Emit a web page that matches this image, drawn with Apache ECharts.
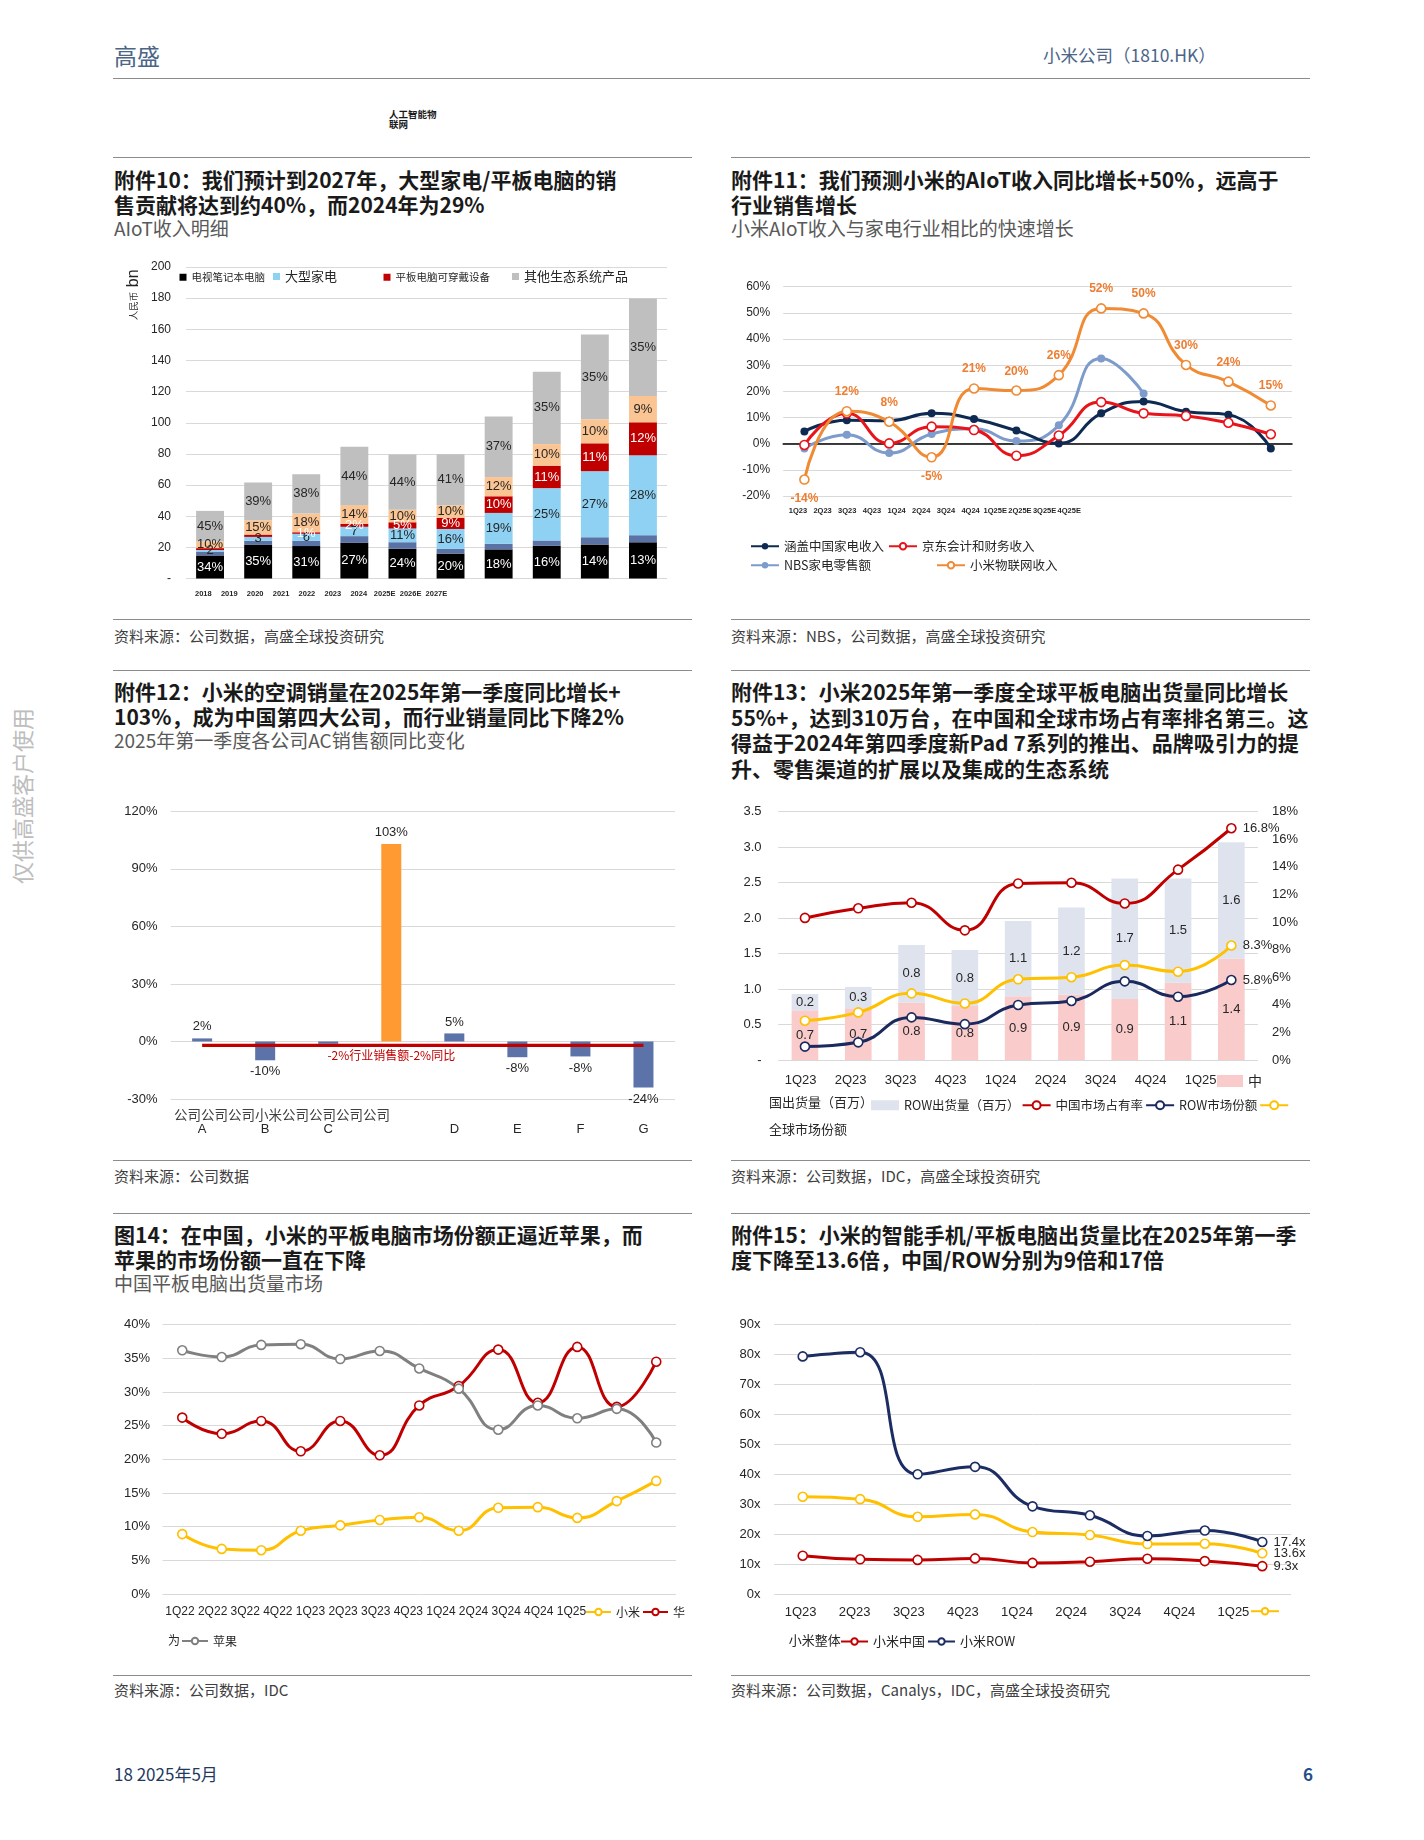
<!DOCTYPE html>
<html><head><meta charset="utf-8">
<script src="https://cdn.jsdelivr.net/npm/echarts@6/dist/echarts.min.js"></script>
<style>
html,body{margin:0;padding:0;background:#fff;}
body{width:1424px;height:1840px;position:relative;overflow:hidden;font-family:'Noto Sans CJK SC','Liberation Sans',sans-serif;}
.abs{position:absolute;white-space:nowrap;}
.rule{position:absolute;height:0;border-top:1.5px solid #8c8c8c;}
.title{font-size:21px;font-weight:700;line-height:24.5px;color:#1a1a1a;}
.sub{font-size:19px;line-height:24.5px;color:#595959;}
.src{font-size:15px;line-height:24px;color:#404040;}
.chart{position:absolute;}
</style></head><body>

<div class="abs" style="left:114px;top:41px;font-size:23px;line-height:28px;color:#4b6587;">高盛</div>
<div class="abs" style="left:1043px;top:43px;font-size:17.5px;line-height:24px;color:#4b6587;">小米公司（1810.HK）</div>
<div class="rule" style="left:113px;top:78px;width:1197px;"></div>
<div class="abs" style="left:389px;top:110px;font-size:9.5px;line-height:9.5px;font-weight:700;color:#1a1a1a;">人工智能物<br>联网</div>

<div class="abs" style="left:-67px;top:782px;width:176px;height:28px;text-align:center;font-size:22px;line-height:28px;color:#bdbdbd;transform:rotate(-90deg);">仅供高盛客户使用</div>

<!-- row 1 -->
<div class="rule" style="left:113px;top:157px;width:579px;"></div>
<div class="rule" style="left:731px;top:157px;width:579px;"></div>
<div class="abs title" style="left:114px;top:167px;">附件10：我们预计到2027年，大型家电/平板电脑的销<br>售贡献将达到约40%，而2024年为29%</div>
<div class="abs sub" style="left:114px;top:216px;">AIoT收入明细</div>
<div class="abs title" style="left:731px;top:167px;">附件11：我们预测小米的AIoT收入同比增长+50%，远高于<br>行业销售增长</div>
<div class="abs sub" style="left:731px;top:216px;">小米AIoT收入与家电行业相比的快速增长</div>
<div class="rule" style="left:113px;top:619px;width:579px;"></div>
<div class="rule" style="left:731px;top:619px;width:579px;"></div>
<div class="abs src" style="left:114px;top:624px;">资料来源：公司数据，高盛全球投资研究</div>
<div class="abs src" style="left:731px;top:624px;">资料来源：NBS，公司数据，高盛全球投资研究</div>

<!-- row 2 -->
<div class="rule" style="left:113px;top:670px;width:579px;"></div>
<div class="rule" style="left:731px;top:670px;width:579px;"></div>
<div class="abs title" style="left:114px;top:679px;">附件12：小米的空调销量在2025年第一季度同比增长+<br>103%，成为中国第四大公司，而行业销量同比下降2%</div>
<div class="abs sub" style="left:114px;top:727.5px;">2025年第一季度各公司AC销售额同比变化</div>
<div class="abs title" style="left:731px;top:679px;line-height:25.5px;">附件13：小米2025年第一季度全球平板电脑出货量同比增长<br>55%+，达到310万台，在中国和全球市场占有率排名第三。这<br>得益于2024年第四季度新Pad 7系列的推出、品牌吸引力的提<br>升、零售渠道的扩展以及集成的生态系统</div>
<div class="rule" style="left:113px;top:1160px;width:579px;"></div>
<div class="rule" style="left:731px;top:1160px;width:579px;"></div>
<div class="abs src" style="left:114px;top:1164px;">资料来源：公司数据</div>
<div class="abs src" style="left:731px;top:1164px;">资料来源：公司数据，IDC，高盛全球投资研究</div>

<!-- row 3 -->
<div class="rule" style="left:113px;top:1213px;width:579px;"></div>
<div class="rule" style="left:731px;top:1213px;width:579px;"></div>
<div class="abs title" style="left:114px;top:1222px;">图14：在中国，小米的平板电脑市场份额正逼近苹果，而<br>苹果的市场份额一直在下降</div>
<div class="abs sub" style="left:114px;top:1271px;">中国平板电脑出货量市场</div>
<div class="abs title" style="left:731px;top:1222px;">附件15：小米的智能手机/平板电脑出货量比在2025年第一季<br>度下降至13.6倍，中国/ROW分别为9倍和17倍</div>
<div class="rule" style="left:113px;top:1675px;width:579px;"></div>
<div class="rule" style="left:731px;top:1675px;width:579px;"></div>
<div class="abs src" style="left:114px;top:1678px;">资料来源：公司数据，IDC</div>
<div class="abs src" style="left:731px;top:1678px;">资料来源：公司数据，Canalys，IDC，高盛全球投资研究</div>

<div class="abs" style="left:114px;top:1762px;font-size:17px;line-height:24px;color:#1f3a5f;">18 2025年5月</div>
<div class="abs" style="left:1303px;top:1762px;font-size:17px;line-height:24px;font-weight:700;color:#1f4e8c;">6</div>

<div id="c10" class="chart" style="left:113px;top:250px;width:580px;height:360px;"></div>
<div id="c11" class="chart" style="left:730px;top:250px;width:580px;height:360px;"></div>
<div id="c12" class="chart" style="left:113px;top:790px;width:580px;height:360px;"></div>
<div id="c13" class="chart" style="left:730px;top:790px;width:580px;height:360px;"></div>
<div id="c14" class="chart" style="left:113px;top:1310px;width:580px;height:350px;"></div>
<div id="c15" class="chart" style="left:730px;top:1310px;width:580px;height:350px;"></div>

<script>
// ---------- DATA ----------
// Exhibit 10: AIoT revenue breakdown (RMB bn)
const C10_YEARS = ['2018','2019','2020','2021','2022','2023','2024','2025E','2026E','2027E'];
const C10_NAMES = ['电视','笔记本电脑','大型家电','平板电脑','可穿戴设备','其他生态系统产品'];
const C10_TV = [14.8,21.6,20.8,22.9,19.1,16.0,18.7,21.0,21.9,23.2];
const C10_LAPTOP = [2.5,2.6,3.4,4.3,4.2,3.0,3.6,3.4,4.6,4.6];
const C10_APPLIANCE = [1.0,2.5,4.5,6.0,8.8,12.8,19.8,33.6,42.4,51.3];
const C10_TABLET = [1.2,1.5,1.0,1.9,4.0,7.2,10.7,14.4,17.9,21.2];
const C10_WEARABLE = [4.3,9.2,12.0,12.0,8.0,8.0,12.3,13.9,15.4,16.9];
const C10_OTHER = [19.6,24.2,25.3,37.5,35.5,32.8,38.9,46.5,54.4,62.5];
const C10_TV_LBL = ['34%','35%','31%','27%','24%','20%','18%','16%','14%','13%'];
const C10_APPLIANCE_LBL = ['2','3','6','7','11%','16%','19%','25%','27%','28%'];
const C10_TABLET_LBL = ['','','1%','2%','5%','9%','10%','11%','11%','12%'];
const C10_WEARABLE_LBL = ['10%','15%','18%','14%','10%','10%','12%','10%','10%','9%'];
const C10_OTHER_LBL = ['45%','39%','38%','44%','44%','41%','37%','35%','35%','35%'];

// Exhibit 11: YoY growth (%)
const C11_Q = ['1Q23','2Q23','3Q23','4Q23','1Q24','2Q24','3Q24','4Q24','1Q25E','2Q25E','3Q25E','4Q25E'];
const C11_CN_APPLIANCE = [4.7,9.0,8.8,11.6,9.4,5.0,0.1,11.6,16.1,12.2,11.1,-1.8];
const C11_JD = [-0.5,11.6,0.1,6.5,5.2,-4.6,3.1,15.9,11.6,10.6,8.0,3.6];
const C11_NBS = [-1.8,3.4,-3.6,3.7,5.7,1.0,7.0,32.6,19.2,null,null,null];
const C11_XIAOMI = [-13.7,12.4,8.4,-5.2,21.1,20.3,26.2,51.7,49.8,30.1,23.7,14.6];

// Exhibit 12: 1Q25 AC sales YoY (%)
const C12_COMPANIES = ['公司A','公司B','公司C','小米','公司D','公司E','公司F','公司G'];
const C12_YOY = [1.6,-9.8,-1.2,103,4.2,-8.2,-7.8,-24];
const C12_LBL = ['2%','-10%','','103%','5%','-8%','-8%','-24%'];
const C12_INDUSTRY = [-2,-2,-2,-2,-2,-2,-2,-2];
const C12_INDUSTRY_LABEL = '-2%行业销售额-2%同比';

// Exhibit 13: tablet shipments (mn) and market share (%)
const C13_Q = ['1Q23','2Q23','3Q23','4Q23','1Q24','2Q24','3Q24','4Q24','1Q25'];
const C13_CN_SHIP = [0.70,0.73,0.81,0.76,0.90,0.92,0.86,1.09,1.43];
const C13_ROW_SHIP = [0.23,0.30,0.81,0.79,1.06,1.23,1.70,1.47,1.64];
const C13_CN_SHARE = [10.3,11.0,11.4,9.4,12.8,12.85,11.35,13.8,16.8];
const C13_ROW_SHARE = [0.97,1.28,3.09,2.6,3.99,4.28,5.7,4.59,5.8];
const C13_GLOBAL_SHARE = [2.85,3.45,4.83,4.1,5.85,6.0,6.88,6.4,8.3];

// Exhibit 14: China tablet shipment share (%)
const C14_Q = ['1Q22','2Q22','3Q22','4Q22','1Q23','2Q23','3Q23','4Q23','1Q24','2Q24','3Q24','4Q24','1Q25'];
const C14_XIAOMI = [8.9,6.7,6.5,9.4,10.2,11.0,11.4,9.4,12.8,12.9,11.3,13.8,16.8];
const C14_HUAWEI = [26.2,23.8,25.7,21.2,25.7,20.6,28.0,30.9,36.3,28.4,36.7,27.8,34.5];
const C14_APPLE = [36.2,35.2,37.0,37.1,34.9,36.1,33.5,30.5,24.4,28.0,26.1,27.5,22.5];

// Exhibit 15: smartphone / tablet shipment ratio (x)
const C15_Q = ['1Q23','2Q23','3Q23','4Q23','1Q24','2Q24','3Q24','4Q24','1Q25'];
const C15_OVERALL = [32.5,31.7,25.8,26.6,20.7,19.7,16.7,16.8,13.6];
const C15_CHINA = [12.8,11.6,11.4,11.9,10.4,10.8,11.8,11.0,9.3];
const C15_ROW = [79.4,80.8,40.0,42.5,29.3,26.3,19.4,21.2,17.4];

// ---------- HELPERS ----------
const FONT = "'Liberation Sans','Noto Sans CJK SC',sans-serif";
const CJK = "'Noto Sans CJK SC','Liberation Sans',sans-serif";
const GL = '#d9d9d9';
const TXT = '#262626';

function hiddenCat(data, grid, extra) {
  return Object.assign({type:'category', gridIndex:grid, data, axisLine:{show:false}, axisTick:{show:false},
    axisLabel:{show:false}, splitLine:{show:false}}, extra || {});
}
function labelCat(data, grid, fs, margin, bold) {
  return {type:'category', gridIndex:grid, data, axisLine:{show:false, onZero:false}, axisTick:{show:false},
    splitLine:{show:false}, axisLabel:{interval:0, fontSize:fs, margin, color:TXT, fontWeight:bold?'bold':'normal', fontFamily:FONT}};
}
function valAxis(min, max, interval, fmt, fs, margin, extra) {
  return Object.assign({type:'value', gridIndex:0, min, max, interval,
    axisLine:{show:false}, axisTick:{show:false},
    axisLabel:{formatter:fmt, fontSize:fs, margin, color:TXT, fontFamily:FONT},
    splitLine:{lineStyle:{color:GL, width:1}}}, extra || {});
}
function lineSeries(name, data, color, open, extra) {
  return Object.assign({name, type:'line', data, smooth:true, symbol:'circle', symbolSize:open?9:8,
    lineStyle:{color, width:3}, z:3,
    itemStyle: open ? {color:'#fff', borderColor:color, borderWidth:1.6} : {color}}, extra || {});
}
function endLabel(arr, fmt) {
  return arr.map((v,i) => i === arr.length-1 ? {value:v, label:{show:true, position:'right', distance:6,
    formatter:fmt(v), color:TXT, fontSize:13, fontFamily:FONT}} : v);
}
function legend(o) { return Object.assign({padding:0, selectedMode:false}, o); }
function init(id) { return echarts.init(document.getElementById(id)); }

// ---------- CHART 10 ----------
(function(){
  const segs = [
    [C10_NAMES[0], C10_TV, C10_TV_LBL, '#000000', '#ffffff'],
    [C10_NAMES[1], C10_LAPTOP, null, '#5b72a5', '#ffffff'],
    [C10_NAMES[2], C10_APPLIANCE, C10_APPLIANCE_LBL, '#8ed1f3', '#262626'],
    [C10_NAMES[3], C10_TABLET, C10_TABLET_LBL, '#c00000', '#ffffff'],
    [C10_NAMES[4], C10_WEARABLE, C10_WEARABLE_LBL, '#fac493', '#262626'],
    [C10_NAMES[5], C10_OTHER, C10_OTHER_LBL, '#bfbfbf', '#262626']
  ];
  const lg = (name, left, fs, fmt) => legend({data:[{name, icon:'rect'}], left, top:fs > 12 ? 20 : 22, itemWidth:7, itemHeight:7,
    formatter: fmt ? (() => fmt) : undefined, textStyle:{fontSize:fs, color:TXT, fontFamily:CJK}});
  init('c10').setOption({
    animation:false,
    textStyle:{fontFamily:FONT},
    grid:[{left:73, right:26, top:17, bottom:31.5}, {left:77.4, width:259, top:17, bottom:31.5}],
    xAxis:[hiddenCat(C10_YEARS, 0), labelCat(C10_YEARS, 1, 7.5, 12, true)],
    yAxis:[valAxis(0, 200, 20, v => v === 0 ? '-' : String(v), 12, 15),
           {type:'value', gridIndex:1, show:false, splitLine:{show:false}}],
    legend:[
      lg(C10_NAMES[0], 66.5, 10.5, C10_NAMES[0] + C10_NAMES[1]),
      lg(C10_NAMES[2], 160, 13),
      lg(C10_NAMES[3], 270.5, 10.5, C10_NAMES[3] + C10_NAMES[4]),
      lg(C10_NAMES[5], 399, 13)
    ],
    graphic:[
      {type:'text', x:20.4, y:28.3, rotation:Math.PI/2, style:{text:'bn', fontSize:16, fill:'#222', fontFamily:FONT, align:'center', verticalAlign:'middle'}},
      {type:'text', x:20.4, y:56, rotation:Math.PI/2, style:{text:'人民币', fontSize:9.5, fill:'#333', fontFamily:CJK, align:'center', verticalAlign:'middle'}}
    ],
    series: segs.map(([name, data, lbl, color, lc]) => ({
      name, type:'bar', stack:'total', xAxisIndex:0, yAxisIndex:0, barWidth:'58%', data,
      itemStyle:{color},
      label:{show:!!lbl, position:'inside', color:lc, fontSize:13, fontFamily:FONT,
        formatter: p => lbl ? lbl[p.dataIndex] : ''}
    }))
  });
})();

// ---------- CHART 11 ----------
(function(){
  const lgText = {fontSize:12.5, color:TXT, fontFamily:CJK};
  init('c11').setOption({
    animation:false,
    textStyle:{fontFamily:FONT},
    grid:[{left:53.2, right:18, top:36.7, bottom:114}, {left:55.6, width:296, top:36.7, bottom:114}],
    xAxis:[hiddenCat(C11_Q, 0, {axisLine:{show:true, onZero:true, lineStyle:{color:'#000', width:1.5}}}),
           labelCat(C11_Q, 1, 7.5, 11, true)],
    yAxis:[valAxis(-20, 60, 10, '{value}%', 12, 13),
           {type:'value', gridIndex:1, show:false, splitLine:{show:false}}],
    legend:[
      legend({data:['涵盖中国家电收入','京东会计和财务收入'], left:20, top:290, itemWidth:28, itemHeight:8, itemGap:4, textStyle:lgText}),
      legend({data:['NBS家电零售额'], left:20, top:309, itemWidth:28, itemHeight:8, textStyle:lgText}),
      legend({data:['小米物联网收入'], left:206, top:309, itemWidth:28, itemHeight:8, textStyle:lgText})
    ],
    series:[
      lineSeries('NBS家电零售额', C11_NBS, '#7d9bcb', false, {connectNulls:false}),
      lineSeries('涵盖中国家电收入', C11_CN_APPLIANCE, '#0f2a52', false),
      lineSeries('京东会计和财务收入', C11_JD, '#e8141b', true),
      lineSeries('小米物联网收入', C11_XIAOMI.map(v => ({value:v, label:{position: v < 0 ? 'bottom' : 'top'}})), '#f08a33', true, {
        z:4,
        label:{show:true, color:'#ed7d31', fontWeight:'bold', fontSize:12, distance:8, fontFamily:FONT,
          formatter: p => Math.round(p.value) + '%'}
      })
    ]
  });
})();

// ---------- CHART 12 ----------
(function(){
  const letters = C12_COMPANIES.map(n => n.startsWith('公司') ? n.slice(2) : '');
  const firstRow = C12_COMPANIES.map(n => n.startsWith('公司') ? '公司' : n).join('');
  const xi = C12_COMPANIES.indexOf('小米');
  init('c12').setOption({
    animation:false,
    textStyle:{fontFamily:FONT},
    grid:{left:57.6, right:18, top:21.4, bottom:51},
    xAxis:{type:'category', data:letters, axisLine:{show:false, onZero:false}, axisTick:{show:false},
      axisLabel:{interval:0, fontSize:13, margin:24, color:TXT, fontFamily:FONT}},
    yAxis:valAxis(-30, 120, 30, '{value}%', 13, 13),
    graphic:[{type:'text', left:61, top:318, style:{text:firstRow, fontSize:13.5, fill:'#404040', fontFamily:CJK}}],
    series:[
      {name:'AC销售额同比', type:'bar', barWidth:20,
        data: C12_YOY.map((v,i) => ({value:v,
          itemStyle:{color: i === xi ? '#ff9a33' : '#5b73a8'},
          label:{show: C12_LBL[i] !== '', position: v < 0 ? 'bottom' : 'top', formatter: C12_LBL[i]}})),
        label:{color:TXT, fontSize:13, distance:5, fontFamily:FONT}},
      {name:'行业销售额同比', type:'line', symbol:'circle', symbolSize:1, showSymbol:true, z:5,
        itemStyle:{color:'rgba(0,0,0,0)'},
        lineStyle:{color:'#c00000', width:3.3},
        data: C12_INDUSTRY.map((v,i) => i === xi ? {value:v, label:{show:true, position:'bottom', distance:4,
          formatter:C12_INDUSTRY_LABEL, color:'#c00000', fontSize:12, fontFamily:CJK}} : v)}
    ]
  });
})();

// ---------- CHART 13 ----------
(function(){
  const lgText = {fontSize:12.5, color:TXT, fontFamily:CJK};
  const CN_NAME = '中国出货量（百万）';
  init('c13').setOption({
    animation:false,
    textStyle:{fontFamily:FONT},
    grid:[{left:48.3, right:52, top:21.7, bottom:90}, {left:45.6, width:450, top:21.7, bottom:90}],
    xAxis:[hiddenCat(C13_Q, 0), labelCat(C13_Q, 1, 13, 13.5, false)],
    yAxis:[
      valAxis(0, 3.5, 0.5, v => v === 0 ? '-' : v.toFixed(1), 13, 16.7),
      valAxis(0, 18, 2, '{value}%', 13, 14, {position:'right', splitLine:{show:false}}),
      {type:'value', gridIndex:1, show:false, splitLine:{show:false}}
    ],
    legend:[
      legend({data:[{name:CN_NAME, icon:'rect'}], left:487, top:284, itemWidth:26, itemHeight:12,
        formatter: n => n.slice(0,1), textStyle:{fontSize:14, color:TXT, fontFamily:CJK}}),
      legend({data:[{name:'ROW出货量（百万）', icon:'rect'}, '中国市场占有率', 'ROW市场份额', '全球市场份额'],
        left:141, top:309, itemWidth:28, itemHeight:10, itemGap:2,
        formatter: n => n === '全球市场份额' ? '' : n, textStyle:lgText})
    ],
    graphic:[
      {type:'text', left:39, top:306, style:{text:CN_NAME.slice(1), fontSize:13, fill:TXT, fontFamily:CJK}},
      {type:'text', left:39, top:333, style:{text:'全球市场份额', fontSize:13, fill:TXT, fontFamily:CJK}}
    ],
    series:[
      {name:CN_NAME, type:'bar', stack:'ship', barWidth:'50%', data:C13_CN_SHIP, itemStyle:{color:'#f9cbcb'},
        label:{show:true, position:'inside', color:TXT, fontSize:13, fontFamily:FONT, formatter: p => p.value.toFixed(1)}},
      {name:'ROW出货量（百万）', type:'bar', stack:'ship', barWidth:'50%', data:C13_ROW_SHIP, itemStyle:{color:'#dfe3ee'},
        label:{show:true, position:'inside', color:TXT, fontSize:13, fontFamily:FONT, formatter: p => p.value.toFixed(1)}},
      lineSeries('中国市场占有率', endLabel(C13_CN_SHARE, v => v.toFixed(1) + '%'), '#c00000', true, {yAxisIndex:1}),
      lineSeries('ROW市场份额', endLabel(C13_ROW_SHARE, v => v.toFixed(1) + '%'), '#1b2a5e', true, {yAxisIndex:1}),
      lineSeries('全球市场份额', endLabel(C13_GLOBAL_SHARE, v => v.toFixed(1) + '%'), '#ffc000', true, {yAxisIndex:1})
    ]
  });
})();

// ---------- CHART 14 ----------
(function(){
  const lgText = {fontSize:12, color:TXT, fontFamily:CJK};
  init('c14').setOption({
    animation:false,
    textStyle:{fontFamily:FONT},
    grid:[{left:49.5, right:17, top:14.7, bottom:66}, {left:50.7, width:424, top:14.7, bottom:66}],
    xAxis:[hiddenCat(C14_Q, 0), labelCat(C14_Q, 1, 12, 12, false)],
    yAxis:[valAxis(0, 40, 5, '{value}%', 13, 12.5), {type:'value', gridIndex:1, show:false, splitLine:{show:false}}],
    legend:[
      legend({data:['小米','华为'], left:472, top:296, width:108, itemWidth:25, itemHeight:8, itemGap:2,
        formatter: n => n === '华为' ? n.slice(0,1) : n, textStyle:lgText}),
      legend({data:['苹果'], left:68, top:325, itemWidth:26, itemHeight:8, textStyle:lgText})
    ],
    graphic:[{type:'text', left:55, top:324, style:{text:'华为'.slice(1), fontSize:12, fill:TXT, fontFamily:CJK}}],
    series:[
      lineSeries('小米', C14_XIAOMI, '#ffc000', true),
      lineSeries('华为', C14_HUAWEI, '#c00000', true),
      lineSeries('苹果', C14_APPLE, '#808080', true)
    ]
  });
})();

// ---------- CHART 15 ----------
(function(){
  const lgText = {fontSize:13, color:TXT, fontFamily:CJK};
  init('c15').setOption({
    animation:false,
    textStyle:{fontFamily:FONT},
    grid:[{left:44, right:19, top:14.7, bottom:66}, {left:43.5, width:487, top:14.7, bottom:66}],
    xAxis:[hiddenCat(C15_Q, 0), labelCat(C15_Q, 1, 13, 12, false)],
    yAxis:[valAxis(0, 90, 10, '{value}x', 13, 13.5), {type:'value', gridIndex:1, show:false, splitLine:{show:false}}],
    legend:[
      legend({data:['小米整体'], left:520, top:297, itemWidth:28, itemHeight:8, formatter: () => '', textStyle:lgText}),
      legend({data:['小米中国','小米ROW'], left:110, top:325, itemWidth:27, itemHeight:8, itemGap:2, textStyle:lgText})
    ],
    graphic:[{type:'text', left:58.7, top:324, style:{text:'小米整体', fontSize:13, fill:TXT, fontFamily:CJK}}],
    series:[
      lineSeries('小米整体', endLabel(C15_OVERALL, v => v.toFixed(1) + 'x'), '#ffc000', true),
      lineSeries('小米中国', endLabel(C15_CHINA, v => v.toFixed(1) + 'x'), '#c00000', true),
      lineSeries('小米ROW', endLabel(C15_ROW, v => v.toFixed(1) + 'x'), '#1c2d63', true)
    ]
  });
})();
</script>
</body></html>
